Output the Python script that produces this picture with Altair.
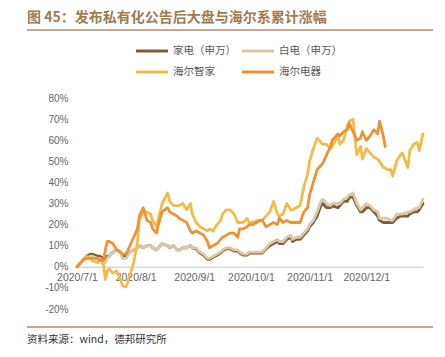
import altair as alt
import pandas as pd

title_text = "图 45：发布私有化公告后大盘与海尔系累计涨幅"
source_text = "资料来源：wind，德邦研究所"
series_names = ["家电（申万）", "白电（申万）", "海尔智家", "海尔电器"]
colors = ["#7d5c38", "#d9c9a5", "#f0bd4a", "#ec9338"]

dates = [
    "2020-07-01", "2020-07-03", "2020-07-04", "2020-07-06", "2020-07-08", "2020-07-09", "2020-07-12", "2020-07-13", "2020-07-15", "2020-07-16",
    "2020-07-17", "2020-07-18", "2020-07-20", "2020-07-22", "2020-07-24", "2020-07-25", "2020-07-27", "2020-07-29", "2020-07-31", "2020-08-02",
    "2020-08-03", "2020-08-05", "2020-08-07", "2020-08-09", "2020-08-10", "2020-08-12", "2020-08-14", "2020-08-15", "2020-08-18", "2020-08-19",
    "2020-08-21", "2020-08-23", "2020-08-24", "2020-08-26", "2020-08-28", "2020-08-30", "2020-08-31", "2020-09-02", "2020-09-04", "2020-09-06",
    "2020-09-08", "2020-09-09", "2020-09-11", "2020-09-13", "2020-09-15", "2020-09-16", "2020-09-18", "2020-09-20", "2020-09-22", "2020-09-24",
    "2020-09-25", "2020-09-27", "2020-09-29", "2020-09-30", "2020-10-02", "2020-10-04", "2020-10-06", "2020-10-07", "2020-10-09", "2020-10-11",
    "2020-10-13", "2020-10-15", "2020-10-16", "2020-10-18", "2020-10-20", "2020-10-22", "2020-10-23", "2020-10-25", "2020-10-27", "2020-10-29",
    "2020-10-31", "2020-11-01", "2020-11-03", "2020-11-05", "2020-11-07", "2020-11-08", "2020-11-10", "2020-11-12", "2020-11-13", "2020-11-16",
    "2020-11-17", "2020-11-19", "2020-11-21", "2020-11-22", "2020-11-24", "2020-11-26", "2020-11-28", "2020-11-29", "2020-12-01", "2020-12-03",
    "2020-12-05", "2020-12-07", "2020-12-08", "2020-12-10", "2020-12-11", "2020-12-12", "2020-12-14", "2020-12-15", "2020-12-17", "2020-12-19",
    "2020-12-20", "2020-12-23", "2020-12-24", "2020-12-26", "2020-12-28", "2020-12-29", "2020-12-31",
]

jiadian = [
    0, 2, 3, 5, 6, 6, 5, 5, 4, 3,
    5, 5, 7, 8, 7, 5, 5, 7, 8, 9,
    10, 9, 10, 10, 9, 8, 10, 11, 10, 9,
    10, 8, 8, 9, 9, 10, 9, 8.5, 6.5, 5.5,
    3.5, 3.5, 4.5, 5.5, 6.5, 7.5, 8.5, 8.5, 7.5, 7.5,
    6.5, 5.5, 5.5, 6.5, 6.5, 6.5, 6.5, 6.5, 8.5, 10,
    11, 12, 11, 11, 13, 14, 12, 13, 13, 15,
    17, 19, 21, 24, 29, 30, 28, 28, 29, 28,
    29, 31, 31, 33, 33, 29, 26, 26, 28, 28,
    26, 24, 22, 21, 21, 21, 21, 21, 23, 24,
    24, 24, 25, 26, 26, 27, 30,
]

baidian = [
    0, 2, 3, 4, 5, 5, 4, 4, 2, 2,
    4, 5, 7, 8, 7, 4, 4, 7, 8, 9,
    10, 9, 10, 10, 9, 8, 10, 11, 10, 9,
    10, 8, 8, 9, 9, 10, 9, 9, 7, 6,
    4, 4, 5, 6, 7, 8, 9, 9, 8, 8,
    7, 6, 6, 7, 7, 7, 7, 7, 9, 11,
    12, 13, 12, 12, 14, 15, 13, 14, 14, 16,
    18, 20, 22, 26, 31, 32, 30, 29, 30, 30,
    30, 32, 33, 34, 35, 30, 27, 28, 30, 29,
    27, 26, 23, 23, 23, 23, 22, 22, 25, 25,
    25, 26, 26, 27, 28, 28, 32,
]

haier_zhijia = [
    0, 2, 3, 5, 4, 3, 2, 4, 1, -6,
    -2, -1, -3, -2, -6, -9, -9.5, -4, 2, 12,
    22, 26, 26, 25, 22, 19, 26, 30, 35, 31,
    29, 29, 29, 30, 27, 30, 25, 21, 19, 18,
    17, 18, 17, 20, 22, 25, 27, 27, 25, 21,
    21, 21, 23, 21, 21, 22, 22, 22, 24, 26,
    31, 25, 24, 25, 30, 27, 27, 28, 29, 38,
    44, 50, 56, 61, 59, 58, 58, 56, 57, 62,
    58, 60, 67, 69, 70, 53, 57, 51, 56, 54,
    52, 51, 50, 47, 47, 46, 46, 43, 50, 53,
    54, 47, 55, 58, 59, 55, 63,
]

haier_dianqi = [
    0, 2, 3, 4, 4, 4, 4, 3, 3, 8,
    12, 12, 11, 8, 7, 6, 6, 10, 14, 18,
    24, 28, 22, 21, 18, 16, 23, 26, 28, 26,
    25, 24, 23, 22, 21, 17, 16, 17, 16, 15,
    12, 9, 10, 11, 13, 14, 15, 16, 16, 14,
    18, 18, 19, 20, 20, 21, 22, 22, 19, 20,
    21, 20, 23, 21, 22, 21, 21, 21, 21, 26,
    28, 34, 40, 46, 48, 49, 53, 57, 60, 63,
    62, 64, 65, 68, 64, 60, 61, 64, 60, 62,
    65, 63, 69, 62, 57, None, None, None, None, None,
    None, None, None, None, None, None, None,
]

y_ticks = [-20, -10, 0, 10, 20, 30, 40, 50, 60, 70, 80]
x_tick_months = [7, 8, 9, 10, 11, 12]

rows = []
for name, vals in zip(series_names, [jiadian, baidian, haier_zhijia, haier_dianqi]):
    for d, v in zip(dates, vals):
        if v is not None:
            rows.append({"date": d, "series": name, "value": v})
df = pd.DataFrame(rows)

W, H = 346, 211
CJK = "Noto Sans CJK SC"

x_enc = alt.X(
    "date:T",
    scale=alt.Scale(type="utc", domain=[alt.DateTime(year=2020, month=7, date=1, utc=True),
                                        alt.DateTime(year=2020, month=12, date=31, utc=True)]),
    axis=alt.Axis(
        values=[alt.DateTime(year=2020, month=m, date=1, utc=True) for m in x_tick_months],
        labelExpr="utcFormat(datum.value, '%Y/%-m/%-d')",
        domain=True, domainColor="#d9d9d9", domainWidth=1.5,
        ticks=False, grid=False, offset=-42.2, labelPadding=6,
        labelFont="Liberation Sans", labelFontSize=10.5, labelColor="#666666",
        labelFlush=False, labelOverlap=False, title=None,
    ),
)
y_enc = alt.Y(
    "value:Q",
    scale=alt.Scale(domain=[-20, 80], nice=False, zero=False),
    axis=alt.Axis(
        values=y_ticks, labelExpr="datum.value + '%'",
        domain=False, ticks=False, grid=False, labelPadding=9,
        labelFont="Liberation Sans", labelFontSize=10, labelColor="#666666", title=None,
    ),
)

lines = alt.Chart(df).mark_line(strokeWidth=2.8, strokeJoin="round", strokeCap="round").encode(
    x=x_enc,
    y=y_enc,
    color=alt.Color("series:N", scale=alt.Scale(domain=series_names, range=colors), legend=None),
    detail="series:N",
)

one = pd.DataFrame({"title": [title_text], "source": [source_text]})

title_mark = alt.Chart(one).mark_text(
    align="left", baseline="middle", font=CJK, fontSize=14, fontWeight="bold", color="#a07a52"
).encode(x=alt.value(-50), y=alt.value(-80), text="title:N")

title_rule = alt.Chart(one).mark_rule(color="#b08d68", strokeWidth=1.5).encode(
    x=alt.value(-50), x2=alt.value(361), y=alt.value(-68)
)

foot_rule = alt.Chart(one).mark_rule(color="#b08d68", strokeWidth=1.5).encode(
    x=alt.value(-50), x2=alt.value(361), y=alt.value(229)
)

source_mark = alt.Chart(one).mark_text(
    align="left", baseline="middle", font=CJK, fontSize=10.5, color="#333333"
).encode(x=alt.value(-50), y=alt.value(242), text="source:N")

# manual legend: two columns, two rows
legend_layers = []
for i, (name, col) in enumerate(zip(series_names, colors)):
    cx = 59 + (i % 2) * 106
    cy = -47 + (i // 2) * 21
    ldf = pd.DataFrame({"name": [name]})
    legend_layers.append(
        alt.Chart(ldf).mark_rule(color=col, strokeWidth=3).encode(
            x=alt.value(cx), x2=alt.value(cx + 32), y=alt.value(cy)
        )
    )
    legend_layers.append(
        alt.Chart(ldf).mark_text(
            align="left", baseline="middle", font=CJK, fontSize=10.5, color="#595959"
        ).encode(x=alt.value(cx + 37), y=alt.value(cy), text="name:N")
    )

chart = alt.layer(title_rule, title_mark, *legend_layers, lines, foot_rule, source_mark).properties(
    width=W, height=H,
    padding={"left": 69, "top": 90, "right": 10, "bottom": 40},
    autosize="none",
).configure_view(stroke=None)

chart.save("out.html", embed_options={"renderer": "svg", "actions": False})
